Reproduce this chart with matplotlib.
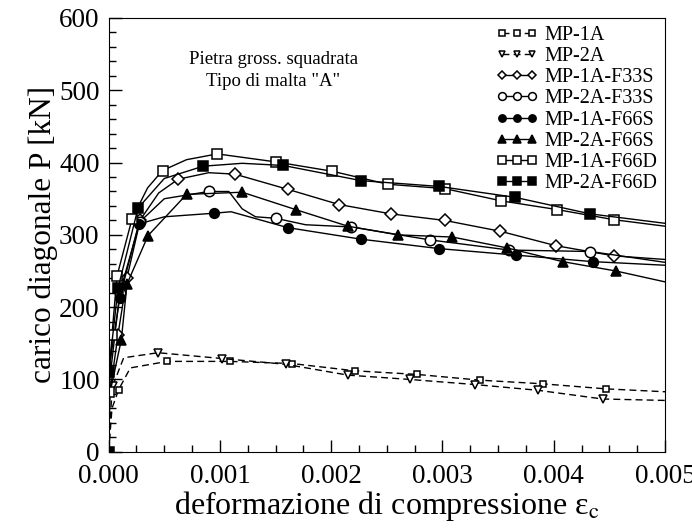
import matplotlib
matplotlib.use("Agg")
import matplotlib.pyplot as plt
from matplotlib.ticker import MultipleLocator, FormatStrFormatter

plt.rcParams['font.family'] = ['Liberation Serif', 'DejaVu Serif']
plt.rcParams['mathtext.fontset'] = 'stix'

# strain [-] and diagonal load P [kN]
x_1a = [0, 0.00003, 0.00009, 0.000195, 0.000526, 0.00109, 0.00165, 0.00221, 0.00277, 0.00334, 0.0039, 0.00447, 0.005]
p_1a = [0, 60, 86, 116, 125, 125, 122, 112, 107, 99, 94, 87, 83]
m_1a = [2, 4, 5, 6, 7, 8, 9, 10, 11]

x_2a = [0, 0.00002, 0.000036, 0.000135, 0.000444, 0.001015, 0.00159, 0.00215, 0.00271, 0.00329, 0.00386, 0.00444, 0.005]
p_2a = [0, 60, 91, 130, 137, 129, 121, 106, 100, 93, 85, 73, 71]
m_2a = [2, 4, 5, 6, 7, 8, 9, 10, 11]

x_1a_f33s = [0, 0.00001, 0.000084, 0.000165, 0.000285, 0.00045, 0.000625, 0.0009, 0.001135, 0.00161, 0.00207, 0.00254, 0.00302, 0.00352, 0.00402, 0.00454, 0.005]
p_1a_f33s = [0, 80, 162, 241, 321, 358, 377, 386, 384, 363, 342, 329, 320, 305, 285, 271, 266]
m_1a_f33s = [2, 3, 4, 6, 8, 9, 10, 11, 12, 13, 14, 15]

x_2a_f33s = [0, 0.00001, 0.0001, 0.00028, 0.0005, 0.000898, 0.00108, 0.0012, 0.00132, 0.0015, 0.00177, 0.00218, 0.00289, 0.0036, 0.00433, 0.005]
p_2a_f33s = [0, 100, 220, 318, 350, 360, 360, 336, 325, 323, 314, 311, 293, 279, 277, 262]
m_2a_f33s = [2, 3, 5, 9, 11, 12, 13, 14]

x_1a_f66s = [0, 0.0, 0.0001, 0.00027, 0.0005, 0.00095, 0.0011, 0.00161, 0.00227, 0.00297, 0.00366, 0.00435, 0.005]
p_1a_f66s = [0, 112, 213, 315, 325, 330, 332, 310, 294, 281, 272, 263, 258]
m_1a_f66s = [1, 2, 3, 5, 7, 8, 9, 10, 11]

x_2a_f66s = [0, 0.00001, 0.000114, 0.000165, 0.000354, 0.0007, 0.0012, 0.00168, 0.00215, 0.0026, 0.00309, 0.00358, 0.00408, 0.00456, 0.005]
p_2a_f66s = [0, 80, 155, 232, 299, 356, 359, 335, 312, 300, 297, 282, 263, 250, 235]
m_2a_f66s = [2, 3, 4, 5, 6, 7, 8, 9, 10, 11, 12, 13]

x_1a_f66d = [0, 0.0, 0.00003, 0.000075, 0.00021, 0.00035, 0.000484, 0.0007, 0.000976, 0.0015, 0.00201, 0.00251, 0.00302, 0.00353, 0.00403, 0.00454, 0.005]
p_1a_f66d = [0, 82, 162, 243, 322, 365, 389, 404, 412, 401, 388, 370, 364, 347, 335, 321, 312]
m_1a_f66d = [1, 2, 3, 4, 6, 8, 9, 10, 11, 12, 13, 14, 15]

x_2a_f66d = [0, 0.0, 0.000084, 0.000264, 0.0005, 0.00085, 0.0012, 0.00157, 0.00227, 0.00297, 0.00365, 0.00433, 0.005]
p_2a_f66d = [0, 110, 226, 337, 378, 395, 399, 396, 375, 367, 352, 329, 316]
m_2a_f66d = [0, 1, 2, 3, 5, 7, 8, 9, 10, 11]

series = [
    ("MP-1A", x_1a, p_1a, m_1a, 's', 'white', (0, (5, 3)), 5),
    ("MP-2A", x_2a, p_2a, m_2a, 'v', 'white', (0, (5, 3)), 5.5),
    ("MP-1A-F33S", x_1a_f33s, p_1a_f33s, m_1a_f33s, 'D', 'white', '-', 6),
    ("MP-2A-F33S", x_2a_f33s, p_2a_f33s, m_2a_f33s, 'o', 'white', '-', 7.5),
    ("MP-1A-F66S", x_1a_f66s, p_1a_f66s, m_1a_f66s, 'o', 'black', '-', 7),
    ("MP-2A-F66S", x_2a_f66s, p_2a_f66s, m_2a_f66s, '^', 'black', '-', 7.5),
    ("MP-1A-F66D", x_1a_f66d, p_1a_f66d, m_1a_f66d, 's', 'white', '-', 7.5),
    ("MP-2A-F66D", x_2a_f66d, p_2a_f66d, m_2a_f66d, 's', 'black', '-', 7.5),
]

fig = plt.figure(figsize=(6.92, 5.29), dpi=100)
ax = fig.add_axes([0.157, 0.146, 0.804, 0.82])

for name, xs, ps, marks, mk, fc, ls, ms in series:
    ax.plot(xs, ps, color='black', lw=1.0, ls=ls, marker=mk, markevery=marks,
            mfc=fc, mec='black', mew=1.1, ms=ms, label=name)

ax.set_xlim(0, 0.005)
ax.set_ylim(0, 600)
ax.xaxis.set_major_locator(MultipleLocator(0.001))
ax.xaxis.set_minor_locator(MultipleLocator(0.00025))
ax.yaxis.set_major_locator(MultipleLocator(100))
ax.yaxis.set_minor_locator(MultipleLocator(20))
ax.xaxis.set_major_formatter(FormatStrFormatter('%.3f'))
ax.tick_params(which='both', direction='in', top=False, right=False, labelsize=19.5)
ax.tick_params(which='major', length=9, width=1)
ax.tick_params(which='minor', length=5, width=1)
ax.tick_params(axis='x', pad=9)
ax.tick_params(axis='y', pad=6.5)

ax.set_xlabel('deformazione di compressione ε$_{\\rm c}$', fontsize=23, labelpad=0)
ax.set_ylabel('carico diagonale P [kN]', fontsize=22.5, labelpad=1)

ax.text(0.296, 0.925, 'Pietra gross. squadrata\nTipo di malta "A"', transform=ax.transAxes,
        ha='center', va='top', fontsize=13.5, linespacing=1.45)

ax.legend(loc='upper right', frameon=False, fontsize=14.5, numpoints=3,
          handlelength=2.1, handletextpad=0.3, labelspacing=0.1,
          borderaxespad=0.0, markerscale=0.75)

fig.savefig('out.png', dpi=100)
